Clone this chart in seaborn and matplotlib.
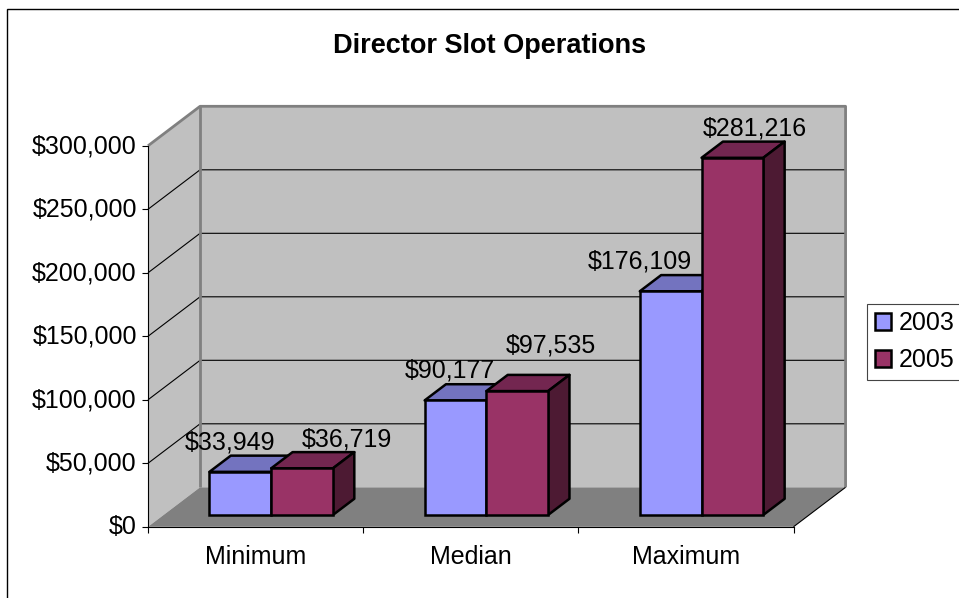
import matplotlib
matplotlib.use("Agg")
import matplotlib.pyplot as plt
from matplotlib.patches import Polygon, Rectangle
from matplotlib.ticker import StrMethodFormatter
from matplotlib.transforms import ScaledTranslation
import pandas as pd
import seaborn as sns

# Data
categories = ["Minimum", "Median", "Maximum"]
years = ["2003", "2005"]
values_2003 = [33949, 90177, 176109]
values_2005 = [36719, 97535, 281216]
y_ticks = [0, 50000, 100000, 150000, 200000, 250000, 300000]

# Style
W, H = 959, 598
front_colors = ["#9999FF", "#993366"]
top_colors = ["#7373BF", "#732650"]
side_colors = ["#4D4D80", "#4D1A33"]
label_nudge = [[(-10, 29), (-6, 30), (-31, 30)], [(45, 29), (34, 46), (22, 29)]]
edge_lw = 1.8

sns.set_theme(style="white")
plt.rcParams["font.family"] = ["Liberation Sans", "DejaVu Sans"]
plt.rcParams["text.color"] = "black"

df = pd.DataFrame({
    "category": categories * 2,
    "year": [years[0]] * 3 + [years[1]] * 3,
    "value": values_2003 + values_2005,
})

fig = plt.figure(figsize=(W / 100, H / 100), dpi=100)
ax = fig.add_axes([148.0 / W, 1 - 526.8 / H, 645.5 / W, 381 / H])

sns.barplot(data=df, x="category", y="value", hue="year", palette=front_colors,
            saturation=1, width=0.574, gap=0, edgecolor="black", linewidth=edge_lw, ax=ax)

xmin, xmax = -0.5, 2.5
ymin, ymax = 0, 300000
depth_x, depth_y = 0.242, 31100  # how far the back wall sits behind the front plane
shift = 0.3      # bars stand this far into the depth
bar_depth = 0.41


def wall(points, color, z=0.5):
    ax.add_patch(Polygon(points, closed=True, facecolor=color, edgecolor="none",
                         zorder=z, clip_on=False))


def line(xs, ys, color="black", lw=0.8, z=0.7):
    ax.plot(xs, ys, color=color, lw=lw, zorder=z, clip_on=False, solid_capstyle="butt")


# walls and floor
wall([(xmin + depth_x, ymin + depth_y), (xmax + depth_x, ymin + depth_y),
      (xmax + depth_x, ymax + depth_y), (xmin + depth_x, ymax + depth_y)], "#C0C0C0")
wall([(xmin, ymin), (xmin + depth_x, ymin + depth_y),
      (xmin + depth_x, ymax + depth_y), (xmin, ymax)], "#C0C0C0")
wall([(xmin, ymin), (xmax, ymin), (xmax + depth_x, ymin + depth_y),
      (xmin + depth_x, ymin + depth_y)], "#808080", z=0.6)

# gridlines on back and left wall
for t in y_ticks[1:-1]:
    line([xmin, xmin + depth_x, xmax + depth_x], [t, t + depth_y, t + depth_y])

gray_lw = 2.0
line([xmin, xmin + depth_x, xmax + depth_x, xmax + depth_x],
     [ymax, ymax + depth_y, ymax + depth_y, ymin + depth_y], color="#808080", lw=gray_lw, z=0.8)
line([xmin + depth_x, xmin + depth_x], [ymin + depth_y, ymax + depth_y],
     color="#808080", lw=gray_lw, z=0.8)
line([xmax, xmax + depth_x], [ymin, ymin + depth_y], z=0.8)

# turn the flat bars into boxes
for i, container in enumerate(ax.containers):
    z = 2 + i
    for j, bar in enumerate(container):
        x = bar.get_x() + shift * depth_x
        w = bar.get_width()
        y0 = shift * depth_y
        top = y0 + bar.get_height()
        dx, dy = bar_depth * depth_x, bar_depth * depth_y
        bar.set_x(x)
        bar.set_y(y0)
        bar.set_zorder(z + 0.1)
        bar.set_clip_on(False)
        ax.add_patch(Polygon([(x, top), (x + w, top), (x + w + dx, top + dy), (x + dx, top + dy)],
                             closed=True, facecolor=top_colors[i], edgecolor="black",
                             lw=edge_lw, zorder=z, clip_on=False, joinstyle="round"))
        ax.add_patch(Polygon([(x + w, y0), (x + w, top), (x + w + dx, top + dy), (x + w + dx, y0 + dy)],
                             closed=True, facecolor=side_colors[i], edgecolor="black",
                             lw=edge_lw, zorder=z, clip_on=False, joinstyle="round"))
        ax.annotate(f"${bar.get_height():,.0f}", xy=(x + w / 2, top), xytext=label_nudge[i][j],
                    textcoords="offset pixels", ha="center", va="center",
                    fontsize=18, color="black", zorder=6, annotation_clip=False)

ax.set_xlim(xmin, xmax)
ax.set_ylim(ymin, ymax)
ax.set_xlabel("")
ax.set_ylabel("")
ax.patch.set_visible(False)

ax.set_yticks(y_ticks)
ax.yaxis.set_major_formatter(StrMethodFormatter("${x:,.0f}"))
ax.set_xticks([-0.5, 0.5, 1.5, 2.5], labels=[])
ax.set_xticks([0, 1, 2], labels=categories, minor=True)
ax.tick_params(axis="y", left=True, length=4.5, width=0.8, color="black", pad=3.5, labelsize=18, labelcolor="black")
ax.tick_params(axis="x", which="major", bottom=True, length=4.5, width=0.8, color="black")
ax.tick_params(axis="x", which="minor", bottom=False, length=0, pad=13, labelsize=18, labelcolor="black")
sns.despine(ax=ax, top=True, right=True)
for s in ["left", "bottom"]:
    ax.spines[s].set_color("black")
    ax.spines[s].set_linewidth(0.8)
    ax.spines[s].set_zorder(1)

# tick labels sit a little above their ticks in the original
up = ScaledTranslation(0, 2 / 100, fig.dpi_scale_trans)
for label in ax.get_yticklabels():
    label.set_transform(label.get_transform() + up)

handles, labels = ax.get_legend_handles_labels()
leg = ax.legend(handles, labels, loc="upper left", bbox_to_anchor=(867 / W, 1 - 303.5 / H),
                bbox_transform=fig.transFigure, borderaxespad=0, fontsize=18, frameon=True,
                fancybox=False, framealpha=1, edgecolor="#444444", handlelength=0.66,
                handleheight=0.66, handletextpad=0.3, borderpad=0.3, labelspacing=0.52,
                labelcolor="black")
leg.get_frame().set_linewidth(0.8)

fig.text(489.5 / W, 1 - 46 / H, "Director Slot Operations", ha="center", va="center",
         fontsize=19.5, fontweight="bold", color="black")

# outer chart border runs off the right and bottom of the picture
fig.add_artist(Rectangle((7.0 / W, -0.1), 1.1, 1.1 - 9.5 / H, transform=fig.transFigure,
                         facecolor="none", edgecolor="black", lw=1.0))

fig.savefig("out.png", dpi=100)
